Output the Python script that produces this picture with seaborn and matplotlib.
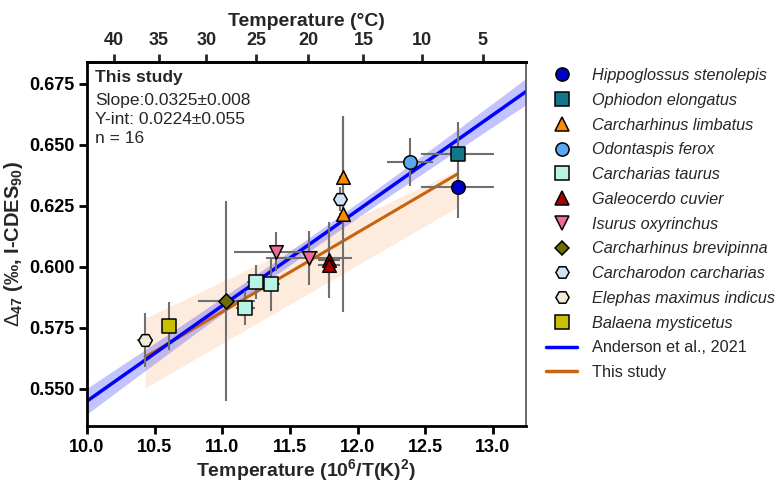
import numpy as np
import pandas as pd
import seaborn as sns
import matplotlib.pyplot as plt
from matplotlib.lines import Line2D

# ---- data ----
species = ['Hippoglossus stenolepis', 'Ophiodon elongatus', 'Carcharhinus limbatus',
           'Odontaspis ferox', 'Carcharias taurus', 'Galeocerdo cuvier',
           'Isurus oxyrinchus', 'Carcharhinus brevipinna', 'Carcharodon carcharias',
           'Elephas maximus indicus', 'Balaena mysticetus']
colors = ['#0000c8', '#107888', '#ff8a00', '#5aa8f0', '#b8f4e4', '#a80000',
          '#f26a92', '#6e6e00', '#d2e2f6', '#efebd6', '#c8c000']
markers = ['o', 's', '^', 'o', 's', '^', 'v', 'D', 'H', 'H', 's']

pt_species = ['Hippoglossus stenolepis', 'Ophiodon elongatus',
              'Carcharhinus limbatus', 'Carcharhinus limbatus',
              'Odontaspis ferox',
              'Carcharias taurus', 'Carcharias taurus', 'Carcharias taurus',
              'Galeocerdo cuvier', 'Galeocerdo cuvier',
              'Isurus oxyrinchus', 'Isurus oxyrinchus',
              'Carcharhinus brevipinna', 'Carcharodon carcharias',
              'Elephas maximus indicus', 'Balaena mysticetus']
pt_x = [12.74, 12.74, 11.89, 11.89, 12.39, 11.25, 11.36, 11.17, 11.79, 11.79,
        11.40, 11.64, 11.03, 11.87, 10.43, 10.607]
pt_y = [0.6328, 0.6463, 0.6369, 0.6217, 0.6430, 0.5939, 0.5930, 0.5832, 0.6029, 0.6008,
        0.6063, 0.6037, 0.5861, 0.6279, 0.5701, 0.5758]
pt_xerr = [0.27, 0.27, 0.03, 0.03, 0.17, 0.07, 0.07, 0.07, 0.08, 0.08,
           0.31, 0.32, 0.21, 0.03, 0.06, 0.05]
pt_yerr = [0.0127, 0.013, 0.025, 0.040, 0.010, 0.007, 0.011, 0.007, 0.0155, 0.010,
           0.008, 0.011, 0.041, 0.005, 0.011, 0.0098]

# Anderson et al. 2021 calibration (line + band parameters)
anderson_slope = 0.0391
anderson_int = 0.154
anderson_ci_mid = 0.0028
anderson_ci_xc = 11.6
anderson_ci_scale = 1.0

# This study regression (as printed on the figure, intercept 0.224)
study_slope = 0.0325
study_int = 0.2241
# confidence envelope: upper / lower bounding lines (slope, intercept)
study_upper = (0.0263, 0.3047)
study_lower = (0.0321, 0.2156)

x_ticks = [10.0, 10.5, 11.0, 11.5, 12.0, 12.5, 13.0]
y_ticks = [0.550, 0.575, 0.600, 0.625, 0.650, 0.675]
top_ticks = [40, 35, 30, 25, 20, 15, 10, 5]

df = pd.DataFrame({'species': pt_species, 'x': pt_x, 'y': pt_y,
                   'xerr': pt_xerr, 'yerr': pt_yerr})

sns.set_style('ticks')
plt.rcParams['font.family'] = ['Liberation Sans', 'DejaVu Sans']
plt.rcParams['mathtext.fontset'] = 'custom'
plt.rcParams['mathtext.rm'] = 'Liberation Sans'
plt.rcParams['mathtext.bf'] = 'Liberation Sans:bold'
plt.rcParams['mathtext.it'] = 'Liberation Sans:italic'

fig = plt.figure(figsize=(7.79, 4.87), dpi=100)
ax = fig.add_axes([87 / 779, 1 - 426 / 487, (526 - 87) / 779, (426 - 62) / 487])

xlim = (10.0, 13.245)
ylim = (0.5348, 0.684)

# Anderson line + band
xa = np.linspace(xlim[0], xlim[1], 200)
ya = anderson_slope * xa + anderson_int
ha = anderson_ci_mid * np.sqrt(1 + ((xa - anderson_ci_xc) / anderson_ci_scale) ** 2)

# This study line + band over the data range
xs = np.linspace(df.x.min(), df.x.max(), 200)
ys = study_slope * xs + study_int
ys_hi = study_upper[0] * xs + study_upper[1]
ys_lo = study_lower[0] * xs + study_lower[1]

ax.fill_between(xs, ys_lo, ys_hi, color='#f7a865', alpha=0.22, lw=0, zorder=1)
ax.fill_between(xa, ya - ha, ya + ha, color='#3a3aff', alpha=0.3, lw=0, zorder=1.2)
sns.lineplot(x=xs, y=ys, ax=ax, color='#c8640c', lw=2.2, zorder=2)
sns.lineplot(x=xa, y=ya, ax=ax, color='#0000ff', lw=2.5, zorder=2.5)

# error bars + markers
for sp, col, mk in zip(species, colors, markers):
    d = df[df.species == sp]
    ax.errorbar(d.x, d.y, xerr=d.xerr, yerr=d.yerr, fmt='none', ecolor='#707070',
                elinewidth=1.5, capsize=0, zorder=3)
    sns.scatterplot(data=d, x='x', y='y', ax=ax, marker=mk, color=col, s=95 if mk != 'D' else 60,
                    edgecolor='black', linewidth=1.1, zorder=4, legend=False)

ax.set_xlim(*xlim)
ax.set_ylim(*ylim)
ax.set_xticks(x_ticks)
ax.set_yticks(y_ticks)
ax.set_xticklabels([f'{v:.1f}' for v in x_ticks], fontweight='bold', fontsize=13)
ax.set_yticklabels([f'{v:.3f}' for v in y_ticks], fontweight='bold', fontsize=13)
ax.tick_params(direction='out', length=6, width=2, colors='black', pad=3)
ax.set_xlabel('Temperature (10$^{\\mathbf{6}}$/T(K)$^{\\mathbf{2}}$)', fontweight='bold', fontsize=14, labelpad=1)
ax.set_ylabel('$\\Delta_{\\mathbf{47}}$ (‰, I-CDES$_{\\mathbf{90}}$)', fontweight='bold', fontsize=14.5, labelpad=3)
for s in ['left', 'bottom', 'top']:
    ax.spines[s].set_linewidth(2)
    ax.spines[s].set_color('black')
ax.spines['right'].set_linewidth(1.2)
ax.spines['right'].set_color('#505050')

# top axis in Celsius
sec = ax.secondary_xaxis('top', functions=(lambda x: np.sqrt(1e6 / np.clip(x, 1e-6, None)) - 273.15,
                                           lambda t: 1e6 / (t + 273.15) ** 2))
sec.set_xticks(top_ticks)
sec.set_xticklabels([str(t) for t in top_ticks], fontweight='bold', fontsize=13)
sec.tick_params(direction='out', length=6, width=2, pad=3)
sec.spines['top'].set_linewidth(2)
sec.set_xlabel('Temperature (°C)', fontweight='bold', fontsize=14, labelpad=5)

# annotation
ax.text(0.018, 0.978, 'This study', transform=ax.transAxes, fontweight='bold', fontsize=12.5, va='top')
ax.text(0.018, 0.915, 'Slope:0.0325±0.008\nY-int: 0.0224±0.055\nn = 16', transform=ax.transAxes,
        fontsize=12.5, va='top', linespacing=1.32)

# legend
handles = [Line2D([], [], ls='none', marker=mk, markerfacecolor=col, markeredgecolor='black',
                  markeredgewidth=1.1, markersize=9.5 if mk != 'D' else 7.5)
           for col, mk in zip(colors, markers)]
handles += [Line2D([], [], color='#0000ff', lw=2.5), Line2D([], [], color='#c8640c', lw=2.5)]
labels = species + ['Anderson et al., 2021', 'This study']
leg = fig.legend(handles, labels, loc='upper left', bbox_to_anchor=(538 / 779, 1 - 60 / 487),
                 frameon=False, fontsize=11.7, handlelength=1.9, handletextpad=0.95,
                 labelspacing=0.6, borderpad=0)
for t in leg.get_texts()[:len(species)]:
    t.set_fontstyle('italic')

fig.savefig('out.png', dpi=100)
